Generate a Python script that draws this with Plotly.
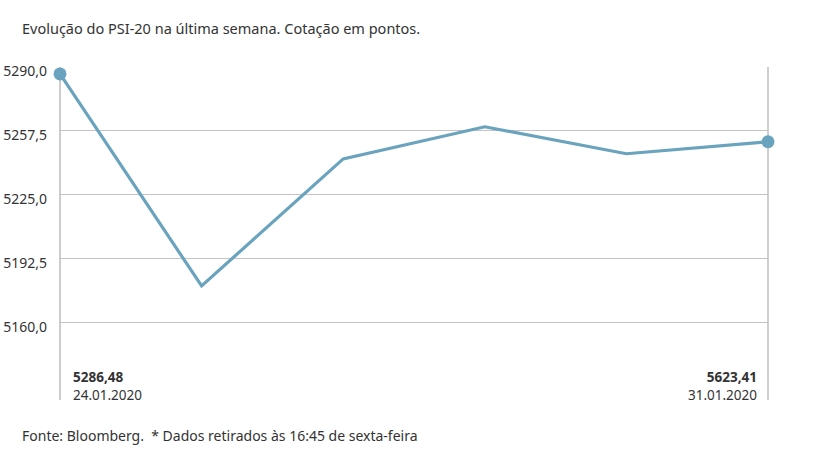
import plotly.graph_objects as go

dates = ["24.01.2020", "27.01.2020", "28.01.2020", "29.01.2020", "30.01.2020", "31.01.2020"]
values = [5286.48, 5178.7, 5243.3, 5259.6, 5245.9, 5252.0]
tick_vals = [5160.0, 5192.5, 5225.0, 5257.5, 5290.0]
tick_text = ["5160,0", "5192,5", "5225,0", "5257,5", "5290,0"]
first_label = "5286,48"
last_label = "5623,41"
title = "Evolução do PSI-20 na última semana. Cotação em pontos."
footer = "Fonte: Bloomberg.  * Dados retirados às 16:45 de sexta-feira"

FONT = "Noto Sans, Open Sans, sans-serif"
LINE = "#6aa3bd"
TXT = "#333333"

xs = list(range(len(dates)))
fig = go.Figure()
fig.add_trace(go.Scatter(
    x=xs, y=values, mode="lines",
    line=dict(color=LINE, width=3.2),
    hoverinfo="skip", showlegend=False,
))
fig.add_trace(go.Scatter(
    x=[xs[0], xs[-1]], y=[values[0], values[-1]], mode="markers",
    marker=dict(color=LINE, size=13),
    cliponaxis=False, hoverinfo="skip", showlegend=False,
))

fig.update_layout(
    width=817, height=460,
    margin=dict(l=60, r=49, t=67, b=60),
    paper_bgcolor="white", plot_bgcolor="white",
    font=dict(family=FONT, size=13, color=TXT),
    xaxis=dict(range=[0, len(dates) - 1], showgrid=False, zeroline=False,
               showticklabels=False, showline=False, fixedrange=True,
               automargin=False),
    yaxis=dict(range=[5120.7, 5290.0], tickvals=tick_vals, ticktext=tick_text,
               showgrid=True, gridcolor="#c4c4c4", gridwidth=1, zeroline=False,
               showline=False, ticks="", ticklabelstandoff=12, ticklabelshift=4,
               automargin=False, fixedrange=True,
               tickfont=dict(size=14, color=TXT)),
    shapes=[
        dict(type="line", xref="paper", yref="paper", x0=0, x1=0, y0=0, y1=1,
             layer="below", line=dict(color="#9a9a9a", width=1)),
        dict(type="line", xref="paper", yref="paper", x0=1, x1=1, y0=0, y1=1,
             layer="below", line=dict(color="#cfcfcf", width=2)),
    ],
    annotations=[
        dict(text=title, xref="paper", yref="paper", x=-0.0565, y=1.117,
             xanchor="left", yanchor="middle", showarrow=False,
             font=dict(size=14.5, color=TXT)),
        dict(text="<b>" + first_label + "</b><br>" + dates[0], xref="paper", yref="paper",
             x=0.016, y=0.041, xanchor="left", yanchor="middle", align="left",
             showarrow=False, font=dict(size=13.5, color=TXT)),
        dict(text="<b>" + last_label + "</b><br>" + dates[-1], xref="paper", yref="paper",
             x=0.987, y=0.041, xanchor="right", yanchor="middle", align="right",
             showarrow=False, font=dict(size=13.5, color=TXT)),
        dict(text=footer, xref="paper", yref="paper", x=-0.0565, y=-0.108,
             xanchor="left", yanchor="middle", showarrow=False,
             font=dict(size=14, color=TXT)),
    ],
)

fig.write_html("out.html", config={"displayModeBar": False},
               post_script="document.body.style.margin='0';")
